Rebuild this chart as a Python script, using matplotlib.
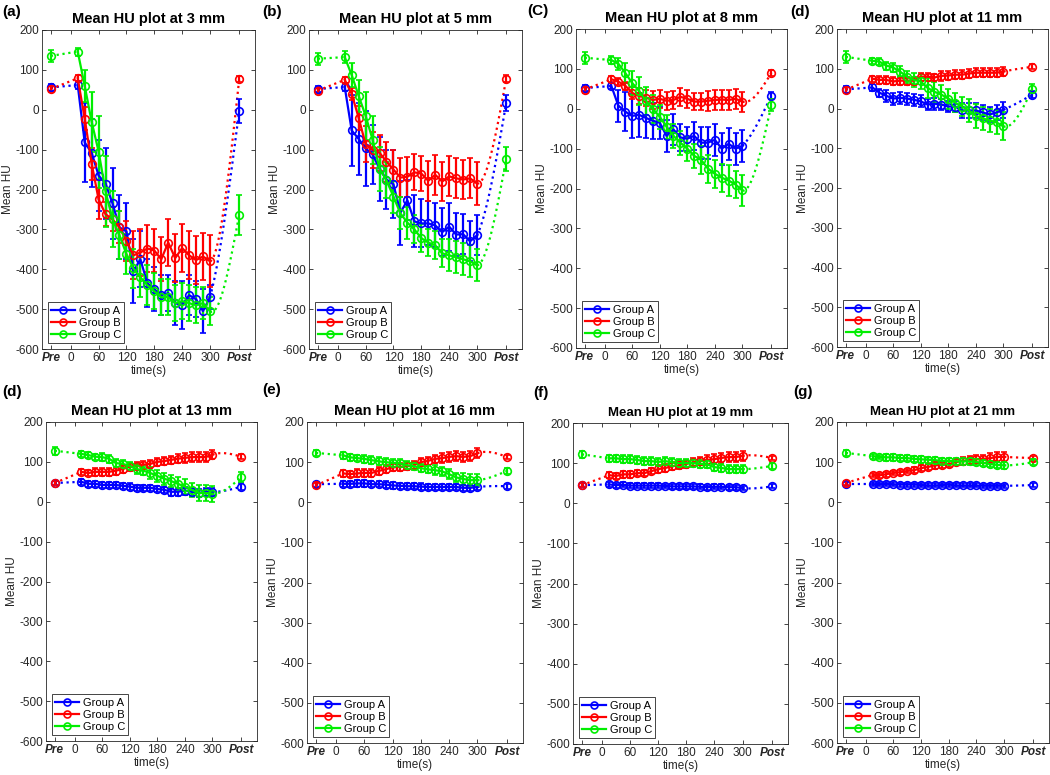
import matplotlib

matplotlib.use("Agg")
import matplotlib.pyplot as plt
import numpy as np
from matplotlib.lines import Line2D

plt.rcParams["font.family"] = ["Liberation Sans", "DejaVu Sans"]
plt.rcParams["axes.unicode_minus"] = False

# time axis: Pre, 15..300 s every 15 s, Post
pre_x = -43
post_x = 363
times = list(range(15, 301, 15))
x_ticks = [pre_x, 0, 60, 120, 180, 240, 300, post_x]
x_tick_labels = ["Pre", "0", "60", "120", "180", "240", "300", "Post"]
groups = ["Group A", "Group B", "Group C"]

panel_labels = ["(a)", "(b)", "(C)", "(d)", "(d)", "(e)", "(f)", "(g)"]
depths = [3, 5, 8, 11, 13, 16, 19, 21]

# each series: Pre, 20 timed points, Post
mm3_A = [56, 62, -82, -108, -165, -185, -235, -295, -305, -405, -375, -435, -450, -465, -460, -485, -490, -465, -475, -505, -470, -2]
mm3_A_err = [8, 10, 100, 85, 90, 90, 90, 80, 70, 80, 70, 60, 55, 50, 45, 55, 60, 50, 45, 55, 30, 30]
mm3_B = [52, 79, -22, -135, -225, -262, -275, -295, -330, -365, -358, -348, -353, -375, -333, -372, -347, -365, -377, -368, -380, 77]
mm3_B_err = [8, 8, 30, 40, 50, 30, 30, 40, 50, 60, 60, 60, 55, 55, 60, 60, 60, 60, 60, 60, 65, 8]
mm3_C = [135, 146, 60, -30, -105, -205, -275, -315, -362, -398, -420, -440, -455, -470, -470, -485, -480, -485, -490, -485, -505, -263]
mm3_C_err = [15, 10, 40, 75, 90, 90, 70, 60, 50, 50, 50, 50, 45, 45, 45, 45, 45, 45, 45, 40, 35, 50]

mm5_A = [52, 57, -52, -73, -97, -112, -148, -175, -187, -258, -227, -280, -285, -285, -290, -307, -293, -313, -312, -330, -315, 17]
mm5_A_err = [8, 10, 90, 90, 95, 75, 80, 75, 85, 80, 50, 65, 60, 55, 55, 60, 60, 55, 50, 50, 50, 20]
mm5_B = [48, 75, 40, -20, -87, -100, -108, -130, -150, -170, -168, -157, -160, -178, -163, -180, -167, -172, -175, -172, -185, 78]
mm5_B_err = [8, 8, 15, 30, 45, 45, 45, 50, 50, 50, 50, 45, 45, 50, 50, 50, 50, 50, 50, 50, 55, 8]
mm5_C = [128, 132, 87, 35, -15, -75, -148, -177, -218, -260, -283, -300, -322, -333, -340, -360, -365, -370, -375, -380, -390, -123]
mm5_C_err = [15, 15, 30, 40, 60, 60, 55, 45, 40, 40, 40, 35, 35, 35, 35, 35, 40, 40, 40, 40, 40, 30]

mm8_A = [52, 57, 8, -7, -18, -15, -23, -30, -35, -68, -52, -72, -75, -68, -85, -85, -78, -100, -88, -100, -93, 33]
mm8_A_err = [8, 8, 40, 50, 55, 55, 50, 45, 40, 40, 40, 35, 30, 35, 40, 40, 40, 40, 40, 40, 40, 8]
mm8_B = [48, 74, 68, 58, 40, 32, 28, 22, 25, 20, 22, 30, 25, 18, 18, 20, 22, 23, 22, 25, 18, 90]
mm8_B_err = [8, 8, 8, 10, 15, 20, 20, 22, 22, 22, 22, 22, 22, 22, 22, 25, 25, 25, 25, 25, 25, 8]
mm8_C = [128, 122, 113, 90, 65, 45, 20, 0, -20, -45, -68, -85, -100, -118, -128, -150, -163, -173, -180, -190, -205, 10]
mm8_C_err = [15, 10, 15, 25, 30, 35, 35, 35, 30, 30, 30, 30, 30, 30, 35, 35, 35, 35, 40, 35, 40, 15]

mm11_A = [48, 53, 40, 32, 25, 27, 25, 22, 18, 10, 12, 10, 5, 5, -5, -5, -5, -10, -15, -10, -3, 35]
mm11_A_err = [8, 8, 10, 15, 15, 15, 15, 15, 15, 15, 15, 15, 15, 15, 20, 20, 20, 20, 20, 20, 20, 8]
mm11_B = [47, 75, 72, 72, 68, 70, 70, 70, 80, 80, 78, 82, 83, 85, 85, 88, 90, 90, 90, 90, 93, 105]
mm11_B_err = [8, 8, 10, 10, 10, 10, 10, 10, 10, 10, 10, 12, 12, 12, 12, 12, 12, 12, 12, 12, 12, 6]
mm11_C = [130, 120, 118, 108, 103, 93, 80, 72, 68, 52, 42, 35, 25, 15, 5, -5, -18, -25, -30, -35, -45, 50]
mm11_C_err = [15, 8, 8, 10, 12, 15, 15, 18, 20, 25, 25, 25, 25, 25, 25, 30, 30, 30, 30, 30, 35, 12]

mm13_A = [47, 50, 45, 45, 42, 42, 42, 40, 38, 35, 35, 35, 32, 30, 25, 25, 28, 25, 22, 25, 25, 38]
mm13_A_err = [6, 8, 8, 8, 8, 8, 8, 8, 8, 8, 8, 8, 8, 8, 10, 10, 10, 10, 10, 10, 10, 8]
mm13_B = [47, 75, 72, 75, 75, 75, 78, 82, 88, 90, 93, 95, 100, 102, 105, 108, 110, 112, 112, 112, 118, 113]
mm13_B_err = [6, 8, 8, 10, 10, 10, 10, 10, 10, 10, 10, 10, 10, 10, 10, 12, 12, 12, 12, 12, 12, 6]
mm13_C = [128, 120, 117, 113, 112, 108, 97, 95, 90, 82, 78, 72, 65, 58, 52, 45, 38, 30, 22, 22, 20, 62]
mm13_C_err = [10, 8, 8, 8, 10, 10, 10, 10, 10, 12, 12, 15, 15, 15, 15, 18, 18, 18, 20, 20, 20, 12]

mm16_A = [45, 46, 46, 47, 47, 45, 45, 44, 42, 41, 40, 40, 39, 38, 38, 38, 38, 38, 36, 36, 38, 40]
mm16_A_err = [6, 8, 8, 8, 8, 8, 8, 8, 8, 8, 8, 8, 8, 8, 8, 8, 8, 8, 8, 8, 8, 6]
mm16_B = [42, 72, 70, 72, 73, 73, 78, 82, 87, 88, 90, 92, 100, 103, 108, 110, 113, 115, 113, 115, 122, 113]
mm16_B_err = [6, 8, 8, 10, 10, 10, 10, 10, 10, 10, 10, 10, 10, 10, 10, 12, 12, 12, 12, 12, 12, 6]
mm16_C = [123, 117, 112, 110, 108, 105, 102, 100, 98, 97, 92, 90, 85, 82, 80, 77, 70, 62, 58, 55, 55, 78]
mm16_C_err = [8, 8, 8, 8, 10, 10, 10, 10, 10, 10, 10, 10, 10, 10, 12, 12, 12, 12, 15, 15, 15, 8]

mm19_A = [45, 47, 45, 46, 44, 44, 44, 44, 44, 43, 42, 42, 42, 42, 41, 40, 41, 41, 40, 40, 38, 42]
mm19_A_err = [5, 6, 6, 6, 6, 6, 6, 6, 6, 6, 6, 6, 6, 6, 6, 6, 6, 6, 6, 6, 6, 5]
mm19_B = [45, 70, 68, 72, 72, 75, 75, 80, 85, 88, 92, 95, 98, 102, 105, 108, 110, 113, 115, 115, 118, 113]
mm19_B_err = [5, 8, 8, 8, 8, 8, 8, 8, 10, 10, 10, 10, 10, 10, 10, 12, 12, 12, 12, 12, 12, 6]
mm19_C = [122, 112, 112, 110, 110, 108, 105, 105, 103, 105, 102, 100, 100, 100, 98, 97, 90, 88, 85, 85, 85, 93]
mm19_C_err = [8, 8, 8, 10, 10, 10, 10, 10, 10, 10, 10, 10, 10, 10, 10, 10, 10, 10, 10, 10, 10, 8]

mm21_A = [45, 45, 45, 46, 45, 44, 44, 44, 43, 42, 42, 43, 44, 42, 42, 42, 42, 41, 41, 41, 41, 43]
mm21_A_err = [5, 5, 5, 5, 5, 5, 5, 5, 5, 5, 5, 5, 5, 5, 5, 5, 5, 5, 5, 5, 5, 5]
mm21_B = [48, 68, 67, 70, 73, 75, 78, 80, 85, 88, 92, 93, 95, 100, 103, 105, 107, 108, 110, 113, 113, 110]
mm21_B_err = [5, 6, 6, 6, 6, 6, 6, 8, 8, 8, 8, 8, 8, 8, 10, 10, 10, 10, 12, 12, 12, 6]
mm21_C = [123, 115, 113, 112, 112, 110, 110, 108, 107, 106, 105, 103, 103, 102, 102, 102, 100, 98, 95, 93, 92, 100]
mm21_C_err = [8, 6, 6, 8, 8, 8, 8, 8, 8, 8, 8, 8, 8, 8, 8, 8, 8, 8, 8, 8, 8, 8]

series = [
    [(mm3_A, mm3_A_err), (mm3_B, mm3_B_err), (mm3_C, mm3_C_err)],
    [(mm5_A, mm5_A_err), (mm5_B, mm5_B_err), (mm5_C, mm5_C_err)],
    [(mm8_A, mm8_A_err), (mm8_B, mm8_B_err), (mm8_C, mm8_C_err)],
    [(mm11_A, mm11_A_err), (mm11_B, mm11_B_err), (mm11_C, mm11_C_err)],
    [(mm13_A, mm13_A_err), (mm13_B, mm13_B_err), (mm13_C, mm13_C_err)],
    [(mm16_A, mm16_A_err), (mm16_B, mm16_B_err), (mm16_C, mm16_C_err)],
    [(mm19_A, mm19_A_err), (mm19_B, mm19_B_err), (mm19_C, mm19_C_err)],
    [(mm21_A, mm21_A_err), (mm21_B, mm21_B_err), (mm21_C, mm21_C_err)],
]

colors = ["#0000ff", "#ff0000", "#00ee00"]

# axes boxes in pixels: left, right, top, bottom
boxes = [
    (42, 255, 30, 349), (309, 522, 30, 349), (576, 787, 29, 348), (837, 1048, 29, 347),
    (46, 257, 422, 741), (307, 523, 422, 743), (573, 788, 423, 744), (837, 1049, 422, 743),
]
label_pos = [(2, 12), (262, 12), (527, 11), (790, 12), (2, 392), (262, 390), (533, 393), (793, 392)]
W, H = 1050, 775


def natural_spline(x, y, xs):
    x = np.asarray(x, float)
    y = np.asarray(y, float)
    n = len(x)
    h = np.diff(x)
    A = np.zeros((n, n))
    r = np.zeros(n)
    A[0, 0] = A[-1, -1] = 1
    for i in range(1, n - 1):
        A[i, i - 1] = h[i - 1]
        A[i, i] = 2 * (h[i - 1] + h[i])
        A[i, i + 1] = h[i]
        r[i] = 3 * ((y[i + 1] - y[i]) / h[i] - (y[i] - y[i - 1]) / h[i - 1])
    c = np.linalg.solve(A, r)
    b = (y[1:] - y[:-1]) / h - h * (2 * c[:-1] + c[1:]) / 3
    d = (c[1:] - c[:-1]) / (3 * h)
    idx = np.clip(np.searchsorted(x, xs) - 1, 0, n - 2)
    dx = xs - x[idx]
    return y[idx] + b[idx] * dx + c[idx] * dx ** 2 + d[idx] * dx ** 3


fig = plt.figure(figsize=(10.5, 7.75), dpi=100)

for k in range(8):
    l, r, t, b = boxes[k]
    ax = fig.add_axes([l / W, 1 - b / H, (r - l) / W, (b - t) / H])
    all_x = [pre_x] + times + [post_x]
    for g in range(3):
        vals, errs = series[k][g]
        col = colors[g]
        # dotted connectors to Pre and Post
        ax.plot([pre_x, times[0]], [vals[0], vals[1]], ":", color=col, lw=1.6, zorder=2)
        xs = np.linspace(times[-1], post_x, 60)
        ax.plot(xs, natural_spline(all_x, vals, xs), ":", color=col, lw=1.6, zorder=2)
        ax.errorbar(times, vals[1:-1], yerr=errs[1:-1], fmt="-o", color=col, lw=1.6,
                    elinewidth=1.6, capsize=2, ms=5.5, mfc="none", mew=1.2, zorder=3)
        ax.errorbar([pre_x, post_x], [vals[0], vals[-1]], yerr=[errs[0], errs[-1]], fmt="o",
                    color=col, elinewidth=1.6, capsize=2, ms=5.5, mfc="none", mew=1.2, zorder=3)

    ax.set_xlim(-62, 397)
    ax.set_ylim(-600, 200)
    ax.set_yticks(range(-600, 201, 100))
    ax.set_xticks(x_ticks)
    ax.set_xticklabels(x_tick_labels)
    for lab in ax.get_xticklabels():
        if lab.get_text() in ("Pre", "Post"):
            lab.set_fontweight("bold")
            lab.set_fontstyle("italic")
    ax.tick_params(direction="in", length=3, width=0.6, labelsize=8.5, top=True, right=True,
                   pad=2, colors="#262626")
    for s in ax.spines.values():
        s.set_linewidth(0.6)
        s.set_color("#262626")
    ax.set_xlabel("time(s)", fontsize=8.5, labelpad=1, color="#262626")
    ax.set_ylabel("Mean HU", fontsize=8.5, labelpad=1, color="#262626")
    tsize = 9.5 if k >= 6 else 10.5
    ax.set_title(f"Mean HU plot at {depths[k]} mm", fontsize=tsize, fontweight="bold", pad=5)

    handles = [Line2D([], [], color=colors[g], marker="o", mfc="none", lw=1.6, ms=5, mew=1.2)
               for g in range(3)]
    leg = ax.legend(handles, groups, loc="lower left", fontsize=8, handlelength=2.2,
                    handletextpad=0.3, borderpad=0.3, labelspacing=0.2, borderaxespad=0.5,
                    fancybox=False, framealpha=1, edgecolor="#262626")
    leg.get_frame().set_linewidth(0.6)

    px, py = label_pos[k]
    fig.text(px / W, 1 - py / H, panel_labels[k], fontsize=11, fontweight="bold",
             va="center", ha="left")

fig.savefig("out.png", dpi=100)
